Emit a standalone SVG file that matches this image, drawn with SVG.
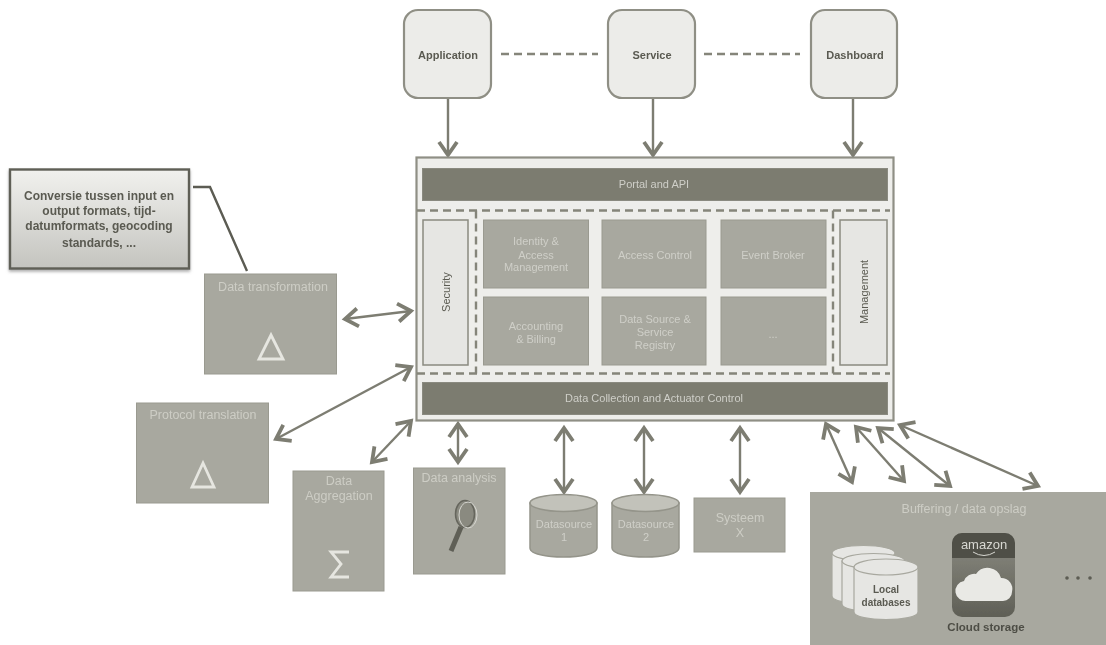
<svg xmlns="http://www.w3.org/2000/svg" width="1106" height="645" viewBox="0 0 1106 645">
<style>
text{font-family:"Liberation Sans",Arial,sans-serif;text-anchor:middle}
.g{fill:#a8a89f;stroke:#9a9a90;stroke-width:1}
.d{fill:#7b7b70;stroke:#8a8a80;stroke-width:1}
.l{fill:#e6e6e3;stroke:#8a8a80;stroke-width:1.5}
.n{fill:#ecece9;stroke:#8f8f85;stroke-width:2.2}
.w{fill:#cfcfc8;font-size:11px}
.t{fill:#cdcdc5;font-size:12.5px}
.k{fill:#5a5a51;font-size:11px;font-weight:bold}
.a{fill:none;stroke:#7d7d72;stroke-width:2.4;marker-start:url(#h);marker-end:url(#h)}
.o{fill:none;stroke:#7d7d72;stroke-width:2.4;marker-end:url(#h)}
.dash{fill:none;stroke:#85857a;stroke-width:2.4;stroke-dasharray:8 5}
.sym{fill:none;stroke:#e6e6e0;stroke-width:2.8}
.cy{fill:#a8a89f;stroke:#94948a;stroke-width:1.5}
.ct{fill:#c2c2ba;stroke:#94948a;stroke-width:1.5}
.ly{fill:#e6e6e3;stroke:#a8a89f;stroke-width:1.2}
</style>
<defs>
<marker id="h" markerUnits="userSpaceOnUse" markerWidth="24" markerHeight="26" refX="18" refY="13" orient="auto-start-reverse"><path d="M5 4L18 13L5 22" fill="none" stroke="#7d7d72" stroke-width="3.8"/></marker>
<linearGradient id="cg" x1="0" y1="0" x2="0" y2="1"><stop offset="0" stop-color="#f1f1ee"/><stop offset="1" stop-color="#c4c4bf"/></linearGradient>
<linearGradient id="sky" x1="0" y1="0" x2="0" y2="1"><stop offset="0" stop-color="#8b8b82"/><stop offset="1" stop-color="#5f5f56"/></linearGradient>
<filter id="soft" x="-2%" y="-2%" width="104%" height="104%"><feGaussianBlur stdDeviation="0.6"/></filter>
<filter id="sh" x="-5%" y="-5%" width="110%" height="115%"><feDropShadow dx="0" dy="2" stdDeviation="1.5" flood-color="#777" flood-opacity="0.6"/></filter>
</defs>
<rect width="1106" height="645" fill="#fff"/>
<g filter="url(#soft)">
<g id="connectors">
<path class="o" d="M448 98V155"/>
<path class="o" d="M653 98V155"/>
<path class="o" d="M853 98V155"/>
<path class="dash" d="M501 54H598"/>
<path class="dash" d="M704 54H800"/>
<path class="a" d="M345 319L411 311"/>
<path class="a" d="M276 439L411 367"/>
<path class="a" d="M372 462L411 421"/>
<path class="a" d="M458 424V462"/>
<path class="a" d="M564 428V492"/>
<path class="a" d="M644 428V492"/>
<path class="a" d="M740 428V492"/>
<path class="a" d="M826 424L852 482"/>
<path class="a" d="M856 427L904 481"/>
<path class="a" d="M878 428L950 486"/>
<path class="a" d="M900 425L1038 486"/>
<path d="M193 187H210L247 271" fill="none" stroke="#5b5b52" stroke-width="2.4"/>
</g>
<g id="application"><rect class="n" x="404" y="10" width="87" height="88" rx="14"/><text class="k" x="448" y="59">Application</text></g>
<g id="service"><rect class="n" x="608" y="10" width="87" height="88" rx="14"/><text class="k" x="652" y="59">Service</text></g>
<g id="dashboard"><rect class="n" x="811" y="10" width="86" height="88" rx="14"/><text class="k" x="855" y="59">Dashboard</text></g>
<g id="platform">
<rect x="416.500" y="157.500" width="477" height="263" fill="#eeeeeb" stroke="#8f8f85" stroke-width="2.200"/>
<path class="dash" d="M417 210.500H890M417 373.500H890M476 210.500V373.500M833 210.500V373.500"/>
</g>
<g id="portal"><rect class="d" x="422.500" y="168.500" width="465" height="32"/><text class="w" x="654" y="188">Portal and API</text></g>
<g id="security"><rect class="l" x="423" y="220" width="45" height="145"/><text class="k" style="font-weight:normal" transform="translate(450 292) rotate(-90)">Security</text></g>
<g id="management"><rect class="l" x="840" y="220" width="47" height="145"/><text class="k" style="font-weight:normal" transform="translate(868 292) rotate(-90)">Management</text></g>
<g id="identity"><rect class="g" x="483.500" y="220" width="105" height="68"/><text class="w" x="536" y="245">Identity &amp;</text><text class="w" x="536" y="259">Access</text><text class="w" x="536" y="271">Management</text></g>
<g id="access-control"><rect class="g" x="602" y="220" width="104" height="68"/><text class="w" x="655" y="259">Access Control</text></g>
<g id="event-broker"><rect class="g" x="721" y="220" width="105" height="68"/><text class="w" x="773" y="259">Event Broker</text></g>
<g id="accounting"><rect class="g" x="483.500" y="297" width="105" height="68"/><text class="w" x="536" y="330">Accounting</text><text class="w" x="536" y="343">&amp; Billing</text></g>
<g id="registry"><rect class="g" x="602" y="297" width="104" height="68"/><text class="w" x="655" y="323">Data Source &amp;</text><text class="w" x="655" y="336">Service</text><text class="w" x="655" y="349">Registry</text></g>
<g id="more"><rect class="g" x="721" y="297" width="105" height="68"/><text class="w" x="773" y="338">...</text></g>
<g id="data-collection"><rect class="d" x="422.500" y="382.500" width="465" height="32"/><text class="w" x="654" y="402">Data Collection and Actuator Control</text></g>
<g id="callout"><rect x="10" y="169.500" width="179" height="99" fill="url(#cg)" stroke="#5f5f56" stroke-width="2.4" filter="url(#sh)"/>
<text class="k" style="font-size:12px" x="99" y="200">Conversie tussen input en</text><text class="k" style="font-size:12px" x="99" y="215">output formats, tijd-</text><text class="k" style="font-size:12px" x="99" y="230">datumformats, geocoding</text><text class="k" style="font-size:12px" x="99" y="247">standards, ...</text></g>
<g id="data-transformation"><rect class="g" x="204.500" y="274" width="132" height="100"/><text class="t" x="273" y="291">Data transformation</text><path class="sym" d="M271 335L283 359H259Z"/></g>
<g id="protocol-translation"><rect class="g" x="136.500" y="403" width="132" height="100"/><text class="t" x="203" y="419">Protocol translation</text><path class="sym" d="M203 463L214 487H192Z"/></g>
<g id="data-aggregation"><rect class="g" x="293" y="471" width="91" height="120"/><text class="t" x="339" y="485">Data</text><text class="t" x="339" y="500">Aggregation</text><path class="sym" d="M349 552H331L341 564L331 577H349"/></g>
<g id="data-analysis"><rect class="g" x="413.500" y="468" width="91.500" height="106"/><text class="t" x="459" y="482">Data analysis</text>
<path d="M461 527L451 551" stroke="#5f5f56" stroke-width="5" fill="none"/><ellipse cx="465" cy="514" rx="9.500" ry="13.500" fill="#8a8a80" stroke="#66665d" stroke-width="1.500"/><ellipse cx="468" cy="515" rx="9" ry="13" fill="none" stroke="#d8d8d2" stroke-width="1"/></g>
<g id="datasource-1"><path class="cy" d="M530 503V548C530 560 597 560 597 548V503Z"/><ellipse class="ct" cx="563.500" cy="503" rx="33.500" ry="8.500"/><text class="w" x="564" y="528">Datasource</text><text class="w" x="564" y="541">1</text></g>
<g id="datasource-2"><path class="cy" d="M612 503V548C612 560 679 560 679 548V503Z"/><ellipse class="ct" cx="645.500" cy="503" rx="33.500" ry="8.500"/><text class="w" x="646" y="528">Datasource</text><text class="w" x="646" y="541">2</text></g>
<g id="systeem-x"><rect class="g" x="694" y="498" width="91" height="54"/><text class="t" x="740" y="522">Systeem</text><text class="t" x="740" y="537">X</text></g>
<g id="buffering"><rect x="810" y="492" width="297" height="154" fill="#a8a89f"/><text class="t" x="964" y="513">Buffering / data opslag</text>
<path class="ly" d="M832 553V596C832 606 895 606 895 596V553Z"/><ellipse class="ly" cx="863.500" cy="553" rx="31.500" ry="7.500"/>
<path class="ly" d="M842 561V604C842 614 905 614 905 604V561Z"/><ellipse class="ly" cx="873.500" cy="561" rx="31.500" ry="7.500"/>
<path class="ly" d="M854 567V612C854 622 918 622 918 612V567Z"/><ellipse class="ly" cx="886" cy="567" rx="32" ry="8"/>
<text class="k" x="886" y="593" style="font-size:10px">Local</text><text class="k" x="886" y="606" style="font-size:10px">databases</text>
<rect x="952" y="533" width="63" height="84" rx="10" fill="url(#sky)"/><path d="M952 558V543A10 10 0 0 1 962 533H1005A10 10 0 0 1 1015 543V558Z" fill="#4f4f47"/>
<text x="984" y="549" style="fill:#d8d8d2;font-size:13px">amazon</text><path d="M973 552Q984 559 995 552" fill="none" stroke="#d8d8d2" stroke-width="1"/>
<path d="M967 601A10 10 0 0 1 964 581A11 11 0 0 1 976 574A14 14 0 0 1 1001 578A11 11 0 0 1 1012 592A9 9 0 0 1 1003 601Z" fill="#e9e9e5"/>
<text class="k" x="986" y="631" style="font-size:11.500px;fill:#4d4d45">Cloud storage</text>
<circle cx="1067" cy="578" r="1.800" fill="#5b5b52"/><circle cx="1078" cy="578" r="1.800" fill="#5b5b52"/><circle cx="1090" cy="578" r="1.800" fill="#5b5b52"/></g>
</g>
</svg>
